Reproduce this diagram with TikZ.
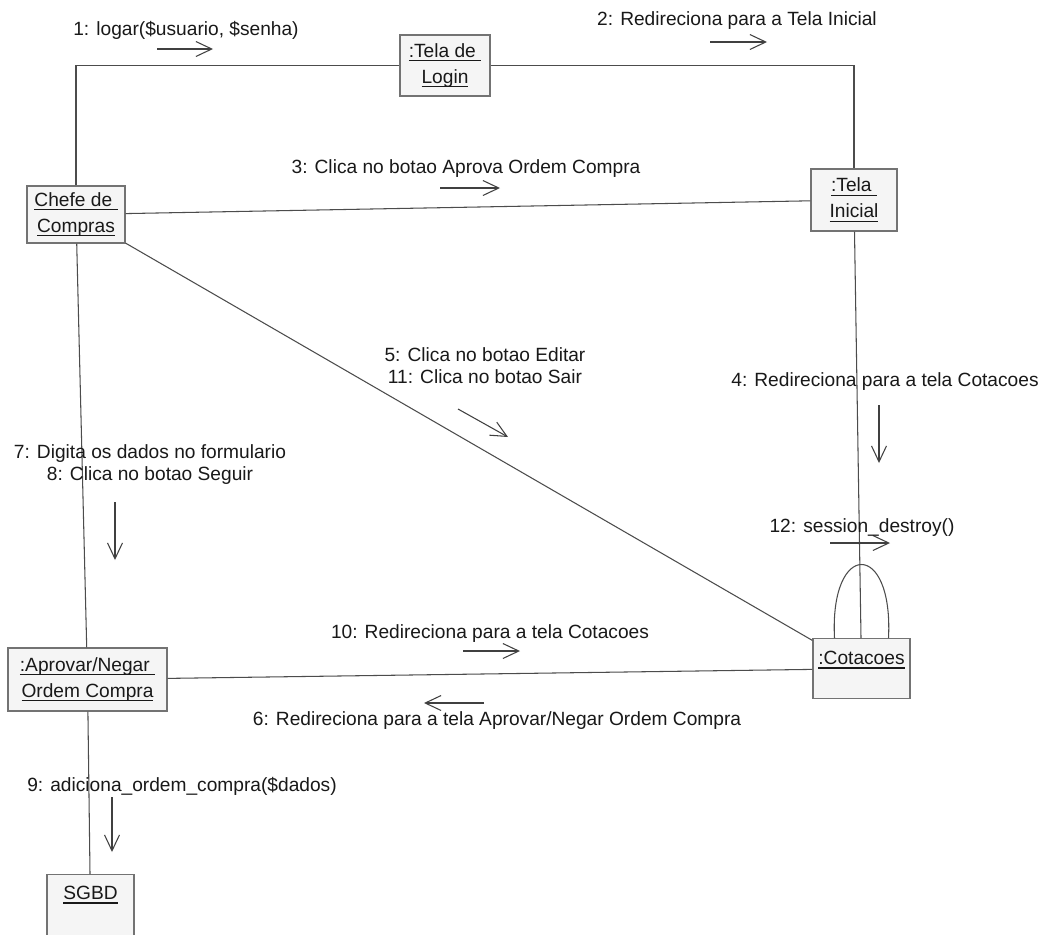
\documentclass[tikz,border=0pt]{standalone}
\usepackage{fontspec}
\setmainfont{Liberation Sans}
\usetikzlibrary{arrows.meta, calc}

\newcommand{\ulname}[1]{\setbox0\hbox{#1}\rlap{\rule[-2.3pt]{\wd0}{0.8pt}}\box0}

\begin{document}
\begin{tikzpicture}[
      x=0.02cm, y=-0.02cm,
      obj/.style={rectangle, draw=black!55, line width=0.8pt, fill=black!4, inner sep=0pt, align=center, text=black!90, font=\fontsize{10.9}{14.8}\selectfont},
      link/.style={draw=black!70, line width=0.6pt},
      msg/.style={-{Straight Barb[length=9pt, width=8.5pt]}, draw=black!75, line width=0.6pt},
      lbl/.style={anchor=base, inner sep=0pt, align=center, text=black!90, font=\fontsize{10.9}{12}\selectfont}
    ]
    \useasboundingbox[fill=white] (0,0) rectangle (1055,934);

    % objects
    \node[obj, minimum width=1.8cm, minimum height=1.22cm] (login) at (445,65.5) {\ulname{:Tela de\ }\\\ulname{Login}};
    \node[obj, minimum width=1.96cm, minimum height=1.14cm] (chefe) at (76,214.5) {\ulname{Chefe de\ }\\\ulname{Compras}};
    \node[obj, minimum width=1.72cm, minimum height=1.24cm] (inicial) at (854,200) {\ulname{:Tela\ }\\\ulname{Inicial}};
    \node[obj, anchor=north, minimum width=1.94cm, text height=0.52cm, text depth=0.68cm] (cot) at (861.5,638) {\ulname{:Cotacoes}};
    \node[obj, minimum width=3.18cm, minimum height=1.26cm] (aprovar) at (87.5,679.5) {\ulname{:Aprovar/Negar\ }\\\ulname{Ordem Compra}};
    \node[obj, anchor=north, minimum width=1.74cm, text height=0.5cm, text depth=1.0cm] (sgbd) at (90.5,874) {\ulname{SGBD}};

    % links
    \draw[link] (chefe) |- (login);
    \draw[link] (login) -| (inicial);
    \draw[link] (chefe) -- (inicial);
    \draw[link] (chefe) -- (cot);
    \draw[link] (inicial) -- (cot);
    \draw[link] (chefe) -- (aprovar);
    \draw[link] (aprovar) -- (cot);
    \draw[link] (aprovar) -- (sgbd);
    \draw[link] ($(cot.north)+(-27,0)$) .. controls ($(cot.north)+(-32,-98)$) and ($(cot.north)+(32,-98)$) .. ($(cot.north)+(27,0)$);

    % messages
    \foreach \n/\xa/\ya/\xb/\yb in {1/157/49/213/49, 2/710/42/767/42, 3/440/188/500/188, 4/879/405/879/463, 5/458/409/508/437, 6/484/703/424/703, 7/115/502/115/560, 9/112/797/112/852, 10/463/651/520/651, 12/830/543/890/543}{
      \coordinate (m\n a) at (\xa,\ya);
      \coordinate (m\n b) at (\xb,\yb);
      \draw[msg] (m\n a) -- (m\n b);
    }

    \node[lbl] (t1) at (186,35) {1: logar(\$usuario, \$senha)};
    \node[lbl] (t2) at (737,25) {2: Redireciona para a Tela Inicial};
    \node[lbl] (t3) at (466,173) {3: Clica no botao Aprova Ordem Compra};
    \node[lbl] (t4) at (885,386) {4: Redireciona para a tela Cotacoes};
    \node[lbl] (t5) at (485,383) {5: Clica no botao Editar\\11: Clica no botao Sair};
    \node[lbl] (t6) at (497,725) {6: Redireciona para a tela Aprovar/Negar Ordem Compra};
    \node[lbl] (t7) at (150,480) {7: Digita os dados no formulario\\8: Clica no botao Seguir};
    \node[lbl] (t9) at (182,791) {9: adiciona\_ordem\_compra(\$dados)};
    \node[lbl] (t10) at (490,638) {10: Redireciona para a tela Cotacoes};
    \node[lbl] (t12) at (862,532) {12: session\_destroy()};
  \end{tikzpicture}
\end{document}
